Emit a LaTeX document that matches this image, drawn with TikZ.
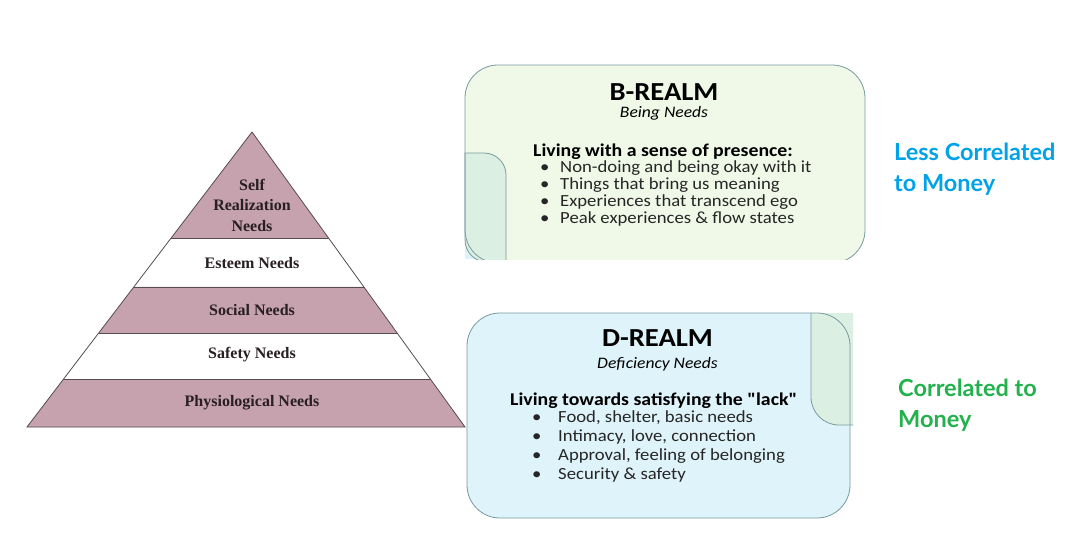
\documentclass[tikz,border=0pt]{standalone}
\usepackage{fontspec}
\usetikzlibrary{calc}
\newfontfamily\calib[FakeStretch=1.1]{Carlito}
\newfontfamily\serifb{Liberation Serif}
\newfontfamily\latof{Lato}
\definecolor{mauve}{RGB}{198,162,174}
\definecolor{pyrline}{RGB}{85,75,80}
\definecolor{pyrtext}{RGB}{40,30,35}
\definecolor{bfill}{RGB}{240,248,232}
\definecolor{gshape}{RGB}{220,239,227}
\definecolor{dfill}{RGB}{222,243,250}
\definecolor{boxline}{RGB}{120,155,160}
\definecolor{lessblue}{RGB}{0,162,232}
\definecolor{corrgreen}{RGB}{34,177,76}
\tikzset{
  pyrlabel/.style={font=\serifb\bfseries\fontsize{16}{20.5}\selectfont, text=pyrtext, align=center, inner sep=0pt},
  realm/.style={anchor=base, inner sep=0pt, font=\calib\bfseries\fontsize{26}{26}\selectfont},
  realmsub/.style={anchor=base, inner sep=0pt, font=\calib\itshape\fontsize{16}{16}\selectfont},
  listhead/.style={anchor=base west, inner sep=0pt, font=\calib\bfseries\fontsize{18}{18}\selectfont},
  listitem/.style={anchor=base west, inner sep=0pt, font=\calib\fontsize{17}{17}\selectfont, text=black!85},
  sidetext/.style={anchor=base west, inner sep=0pt, align=left, font=\latof\bfseries\fontsize{23.5}{31}\selectfont},
  boxborder/.style={draw=boxline, line width=0.8pt}
}
\begin{document}
\begin{tikzpicture}[x=1pt,y=-1pt]
\useasboundingbox (0,0) rectangle (1090,538);
\fill[white] (0,0) rectangle (1090,538);

% ---------- Pyramid ----------
\coordinate (apex) at (252,132);
\coordinate (bl) at (27,427);
\coordinate (br) at (465,427);
\coordinate (l1) at ($(apex)!0.3593!(bl)$); \coordinate (r1) at ($(apex)!0.3593!(br)$);
\coordinate (l2) at ($(apex)!0.5254!(bl)$); \coordinate (r2) at ($(apex)!0.5254!(br)$);
\coordinate (l3) at ($(apex)!0.6814!(bl)$); \coordinate (r3) at ($(apex)!0.6814!(br)$);
\coordinate (l4) at ($(apex)!0.8373!(bl)$); \coordinate (r4) at ($(apex)!0.8373!(br)$);
\fill[white] (apex) -- (bl) -- (br) -- cycle;
\fill[mauve] (apex) -- (l1) -- (r1) -- cycle;
\fill[mauve] (l2) -- (l3) -- (r3) -- (r2) -- cycle;
\fill[mauve] (l4) -- (bl) -- (br) -- (r4) -- cycle;
\draw[pyrline, line width=0.8pt, line join=miter] (apex) -- (bl) -- (br) -- cycle;
\draw[pyrline, line width=0.8pt] (l1) -- (r1) (l2) -- (r2) (l3) -- (r3) (l4) -- (r4);

\node[pyrlabel] (self) at (252,205) {Self\\Realization\\Needs};
\node[pyrlabel] (esteem) at (252,263) {Esteem Needs};
\node[pyrlabel] (social) at (252,310) {Social Needs};
\node[pyrlabel] (safety) at (252,355) {Safety Needs};
\node[pyrlabel] (phys) at (252,403) {Physiological Needs};

% ---------- B-REALM box ----------
\begin{scope}
  \clip (400,0) rectangle (900,259);
  \fill[bfill, rounded corners=33] (465,65) rectangle (865,263);
  \fill[dfill] (465,232) rectangle (492,259);
  \path[fill=gshape, draw=boxline, line width=0.8pt]
    (465,153) -- (484,153) arc[start angle=270, end angle=360, radius=22]
    -- (506,262) -- (487,262) arc[start angle=90, end angle=180, radius=22]
    -- cycle;
  \draw[boxborder, rounded corners=33] (465,65) rectangle (865,263);
\end{scope}

\node[realm] (breal) at (664,100) {B-REALM};
\node[realmsub] (bsub) at (664,117.5) {Being Needs};
\node[listhead] (bhead) at (533,156.5) {Living with a sense of presence:};
\node[listitem] (b1) at (540,172) {\makebox[20pt][l]{\textbullet}Non-doing and being okay with it};
\node[listitem] (b2) at (540,189.3) {\makebox[20pt][l]{\textbullet}Things that bring us meaning};
\node[listitem] (b3) at (540,206.6) {\makebox[20pt][l]{\textbullet}Experiences that transcend ego};
\node[listitem] (b4) at (540,223.9) {\makebox[20pt][l]{\textbullet}Peak experiences \& flow states};

% ---------- D-REALM box ----------
\fill[dfill, rounded corners=33] (467,313) rectangle (850,518);
\fill[bfill] (849,313) rectangle (853,425);
\begin{scope}
  \clip (800,313) rectangle (853,430);
  \path[fill=gshape]
    (811,313) -- (811,397) arc[start angle=180, end angle=90, radius=28]
    -- (853,425) -- (853,313) -- cycle;
  \draw[boxline, line width=0.8pt]
    (811,313) -- (811,397) arc[start angle=180, end angle=90, radius=28] -- (853,425);
\end{scope}
\draw[boxborder, rounded corners=33] (467,313) rectangle (850,518);

\node[realm] (dreal) at (657.5,346.5) {D-REALM};
\node[realmsub] (dsub) at (657.5,368.3) {Deficiency Needs};
\node[listhead] (dhead) at (510,405) {Living towards satisfying the "lack"};
\node[listitem] (d1) at (532,422.3) {\makebox[26pt][l]{\textbullet}Food, shelter, basic needs};
\node[listitem] (d2) at (532,441.3) {\makebox[26pt][l]{\textbullet}Intimacy, love, connection};
\node[listitem] (d3) at (532,460.3) {\makebox[26pt][l]{\textbullet}Approval, feeling of belonging};
\node[listitem] (d4) at (532,479.3) {\makebox[26pt][l]{\textbullet}Security \& safety};

% ---------- Side labels ----------
\node[sidetext, text=lessblue] (less) at (894,191) {Less Correlated\\to Money};
\node[sidetext, text=corrgreen] (corr) at (898,427) {Correlated to\\Money};
\end{tikzpicture}
\end{document}
